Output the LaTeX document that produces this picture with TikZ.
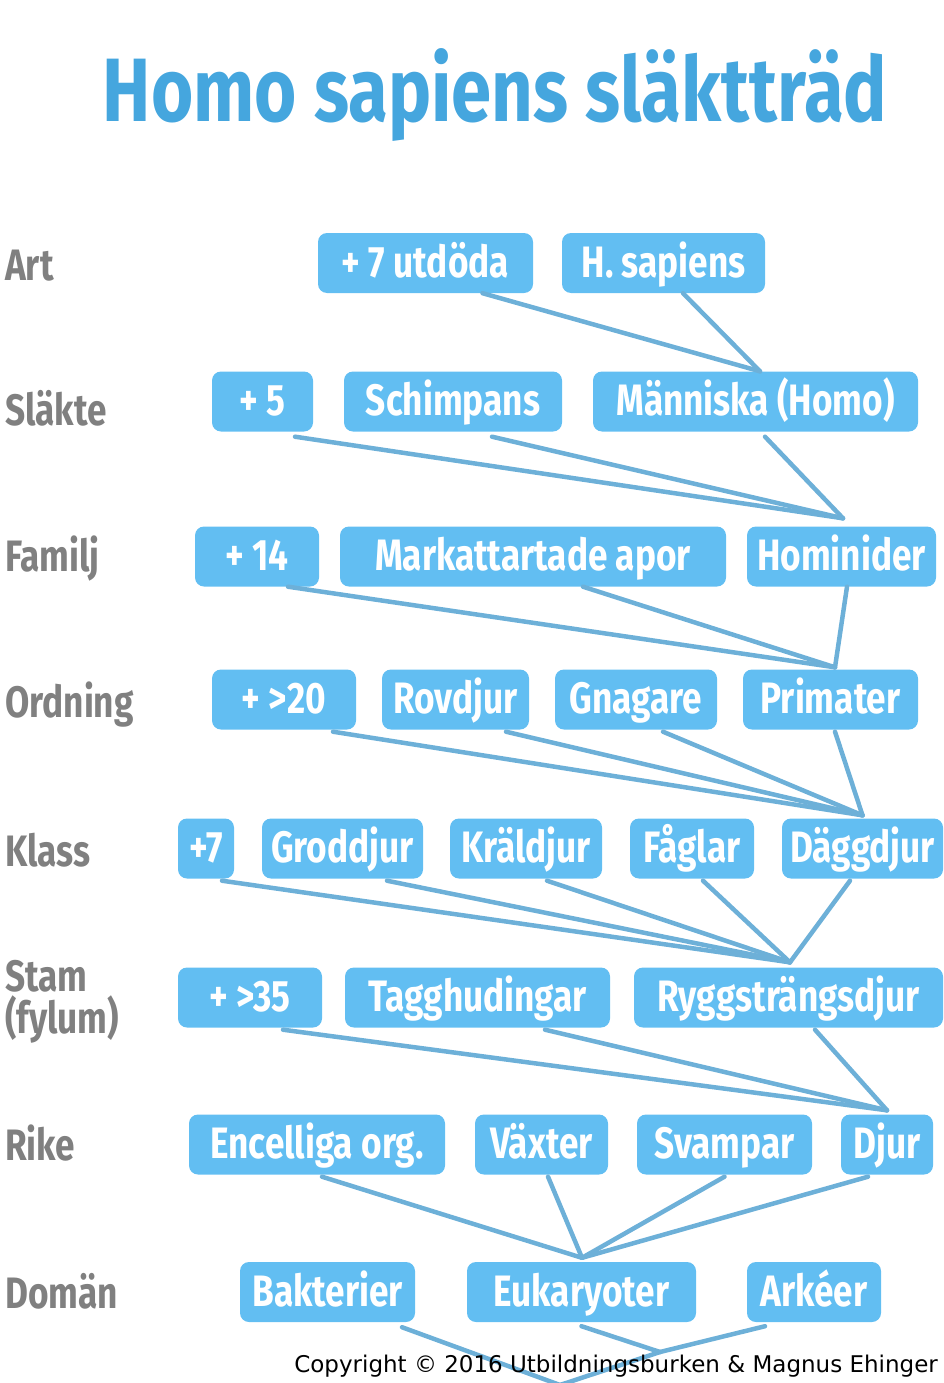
\documentclass[tikz,border=0pt]{standalone}
\usepackage{fontspec}
\usepackage{tikz}
\usetikzlibrary{positioning}
\newfontfamily\handfont[FakeStretch=0.8]{Fira Sans}
\newfontfamily\titlefont[FakeStretch=0.805]{Fira Sans}
\newfontfamily\notefont{DejaVu Sans}
\definecolor{boxblue}{HTML}{62BEF2}
\definecolor{linkblue}{HTML}{6DB0D8}
\definecolor{titleblue}{HTML}{45A6DE}
\definecolor{rankgray}{HTML}{808080}

\begin{document}
\begin{tikzpicture}[
        line join=round, line cap=round,
        x=1pt, y=-1pt,
        taxon/.style={fill=boxblue, rounded corners=9pt, minimum height=60pt, inner sep=0pt,
            text=white, text height=30pt, text depth=2pt,
            font=\handfont\bfseries\fontsize{44}{44}\selectfont},
        rank/.style={anchor=base west, inner sep=0pt, text=rankgray,
            font=\handfont\bfseries\fontsize{44}{44}\selectfont},
        link/.style={draw=linkblue, line width=4.5pt}
      ]
      \useasboundingbox (0,0) rectangle (944,1383);

      % ---- title ----
      \node[anchor=base, inner sep=0pt, text=titleblue,
        font=\titlefont\bfseries\fontsize{90}{90}\selectfont] (title) at (495,122) {Homo sapiens släktträd};

      % ---- ranks ----
      \node[rank] (rArt) at (5,280) {Art};
      \node[rank] (rSla) at (5,425) {Släkte};
      \node[rank] (rFam) at (5,571) {Familj};
      \node[rank] (rOrd) at (5,717) {Ordning};
      \node[rank] (rKla) at (5,866) {Klass};
      \node[rank] (rSta) at (5,991) {Stam};
      \node[rank] (rFyl) at (5,1033) {(fylum)};
      \node[rank] (rRik) at (5,1160) {Rike};
      \node[rank] (rDom) at (5,1308) {Domän};

      %==================== TAXA ====================
      % Art
      \node[taxon, minimum width=215pt] (utd)  at (425.5,263) {+ 7 utdöda};
      \node[taxon, minimum width=203pt] (hsap) at (663.5,263) {H. sapiens};
      % Släkte
      \node[taxon, minimum width=101pt] (p5)    at (262.5,401.5) {+ 5};
      \node[taxon, minimum width=218pt] (schim) at (453,401.5) {Schimpans};
      \node[taxon, minimum width=325pt] (homo)  at (755.5,401.5) {Människa (Homo)};
      % Familj
      \node[taxon, minimum width=124pt] (p14)  at (257,556.5) {+ 14};
      \node[taxon, minimum width=386pt] (mark) at (533,556.5) {Markattartade apor};
      \node[taxon, minimum width=189pt] (homd) at (841.5,556.5) {Hominider};
      % Ordning
      \node[taxon, minimum width=144pt] (p20)  at (284,699.5) {+ >20};
      \node[taxon, minimum width=147pt] (rov)  at (455.5,699.5) {Rovdjur};
      \node[taxon, minimum width=162pt] (gna)  at (636,699.5) {Gnagare};
      \node[taxon, minimum width=175pt] (prim) at (830.5,699.5) {Primater};
      % Klass
      \node[taxon, minimum width=56pt]  (p7)   at (206,848.5) {+7};
      \node[taxon, minimum width=161pt] (grod) at (342.5,848.5) {Groddjur};
      \node[taxon, minimum width=152pt] (kral) at (526,848.5) {Kräldjur};
      \node[taxon, minimum width=124pt] (fag)  at (692,848.5) {Fåglar};
      \node[taxon, minimum width=161pt] (dagg) at (862.5,848.5) {Däggdjur};
      % Stam
      \node[taxon, minimum width=144pt] (p35)  at (250,997.5) {+ >35};
      \node[taxon, minimum width=265pt] (tagg) at (477.5,997.5) {Tagghudingar};
      \node[taxon, minimum width=309pt] (rygg) at (788.5,997.5) {Ryggsträngsdjur};
      % Rike
      \node[taxon, minimum width=256pt] (enc)   at (317,1144.5) {Encelliga org.};
      \node[taxon, minimum width=133pt] (vax)   at (541.5,1144.5) {Växter};
      \node[taxon, minimum width=175pt] (svamp) at (724.5,1144.5) {Svampar};
      \node[taxon, minimum width=92pt]  (djur)  at (887,1144.5) {Djur};
      % Domän
      \node[taxon, minimum width=175pt] (bakt) at (327.5,1292) {Bakterier};
      \node[taxon, minimum width=229pt] (euk)  at (581.5,1292) {Eukaryoter};
      \node[taxon, minimum width=134pt] (ark)  at (814,1292) {Arkéer};

      %==================== LINKS ====================
      \coordinate (jArt) at ([xshift=4.5]homo.north);
      \coordinate (jSla) at ([xshift=1.5, yshift=8]homd.north);
      \coordinate (jFam) at ([xshift=4.5, yshift=2]prim.north);
      \coordinate (jOrd) at ([yshift=3]dagg.north);
      \coordinate (jKla) at ([xshift=1.5, yshift=5]rygg.north);
      \coordinate (jSta) at ([yshift=4]djur.north);
      \coordinate (jRik) at ([xshift=0.5, yshift=4]euk.north);
      \coordinate (jDom) at (660,1352);
      \coordinate (root) at (560,1385);

      \foreach \n/\d in {utd/57, hsap/19.5}
        \draw[link] ([xshift=\d]\n.south) -- (jArt);
      \foreach \n/\d in {p5/32.5, schim/39, homo/9.5}
        \draw[link] ([xshift=\d, yshift=-5]\n.south) -- (jSla);
      \foreach \n/\d in {p14/31, mark/50, homd/5.5}
        \draw[link] ([xshift=\d]\n.south) -- (jFam);
      \foreach \n/\d in {p20/49, rov/50.5, gna/27, prim/4.5}
        \draw[link] ([xshift=\d, yshift=-2]\n.south) -- (jOrd);
      \foreach \n/\d in {p7/16, grod/44.5, kral/21, fag/11, dagg/-12.5}
        \draw[link] ([xshift=\d, yshift=-2]\n.south) -- (jKla);
      \foreach \n/\d in {p35/33, tagg/67.5, rygg/26.5}
        \draw[link] ([xshift=\d, yshift=-2]\n.south) -- (jSta);
      \foreach \n/\d in {enc/5, vax/6.5, svamp/0, djur/-19}
        \draw[link] ([xshift=\d, yshift=-2]\n.south) -- (jRik);
      \foreach \n/\d in {euk/0, ark/-49}
        \draw[link] ([xshift=\d, yshift=-4]\n.south) -- (jDom);
      \draw[link] ([xshift=74.5, yshift=-5]bakt.south) -- (root);
      \draw[link] (jDom) -- (root);

      % ---- copyright ----
      \node[anchor=base east, inner sep=0pt, font=\notefont\fontsize{23}{23}\selectfont] (copy) at (938,1372)
        {Copyright © 2016 Utbildningsburken \& Magnus Ehinger};

    \end{tikzpicture}
\end{document}
